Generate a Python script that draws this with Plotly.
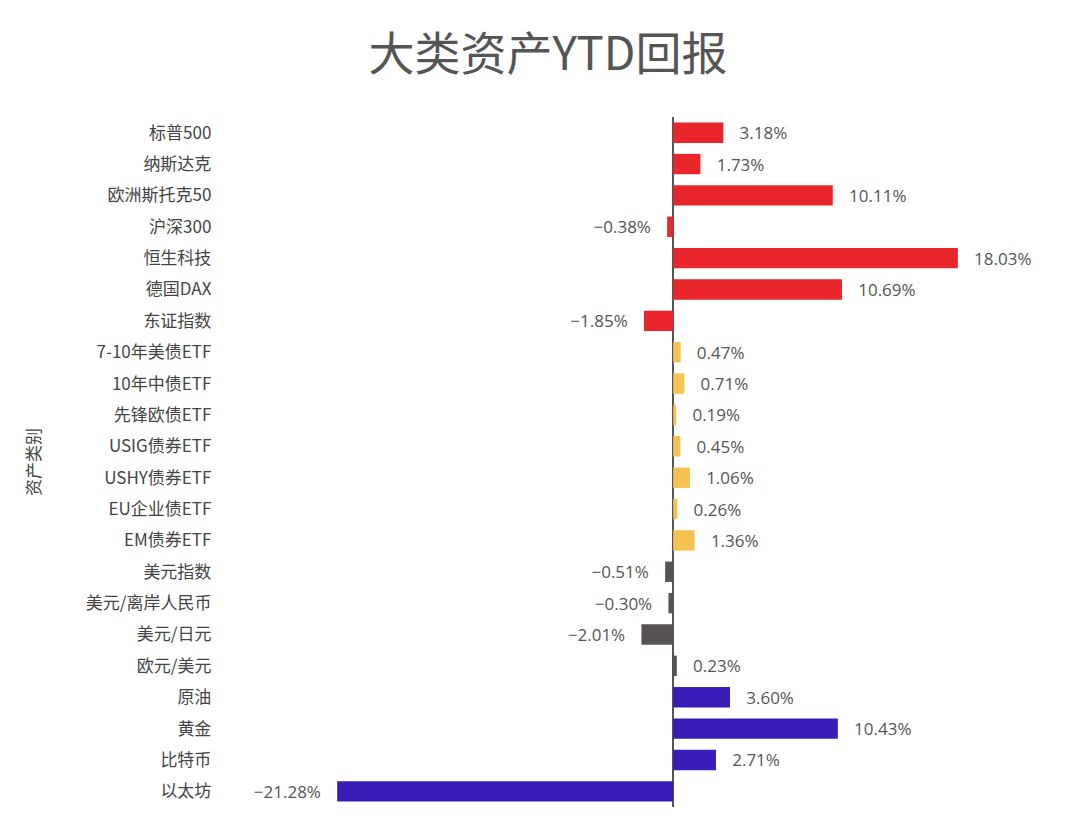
import plotly.graph_objects as go

assets = ["标普500", "纳斯达克", "欧洲斯托克50", "沪深300", "恒生科技", "德国DAX", "东证指数",
          "7-10年美债ETF", "10年中债ETF", "先锋欧债ETF", "USIG债券ETF", "USHY债券ETF",
          "EU企业债ETF", "EM债券ETF", "美元指数", "美元/离岸人民币", "美元/日元", "欧元/美元",
          "原油", "黄金", "比特币", "以太坊"]
ytd = [3.18, 1.73, 10.11, -0.38, 18.03, 10.69, -1.85,
       0.47, 0.71, 0.19, 0.45, 1.06, 0.26, 1.36,
       -0.51, -0.30, -2.01, 0.23,
       3.60, 10.43, 2.71, -21.28]
groups = ["股票"] * 7 + ["债券"] * 7 + ["外汇"] * 4 + ["商品"] * 4

group_colors = {"股票": "#e8262b", "债券": "#f5c251", "外汇": "#575355", "商品": "#3a1db8"}


def label(v):
    s = f"{v:.2f}%".replace("-", "−")
    return s + "   " if v < 0 else "   " + s


fig = go.Figure(go.Bar(
    x=ytd, y=assets, orientation="h",
    marker=dict(color=[group_colors[g] for g in groups], line=dict(width=0)),
    width=0.65,
    text=[label(v) for v in ytd],
    textposition="outside", cliponaxis=False, constraintext="none",
    textfont=dict(size=17, color="#555555", family="Open Sans, Noto Sans CJK SC"),
))

fig.update_layout(
    width=1080, height=835,
    paper_bgcolor="white", plot_bgcolor="white",
    margin=dict(l=212, r=28, t=109, b=36),
    title=dict(text="大类资产YTD回报", x=0.5, xanchor="center", y=0.945, yanchor="middle",
               font=dict(size=46, color="#555555", family="Noto Sans CJK SC")),
    xaxis=dict(range=[-28.7, 24.5], showticklabels=False, showgrid=False,
               zeroline=True, zerolinecolor="#555555", zerolinewidth=2),
    yaxis=dict(autorange="reversed", showgrid=False, ticks="", ticksuffix="  ",
               tickfont=dict(size=17, color="#444444", family="Noto Sans CJK SC"),
               title=dict(text="资产类别", standoff=40,
                          font=dict(size=17, color="#444444", family="Noto Sans CJK SC"))),
    showlegend=False,
    bargap=0.35,
)

fig.write_html("out.html")
